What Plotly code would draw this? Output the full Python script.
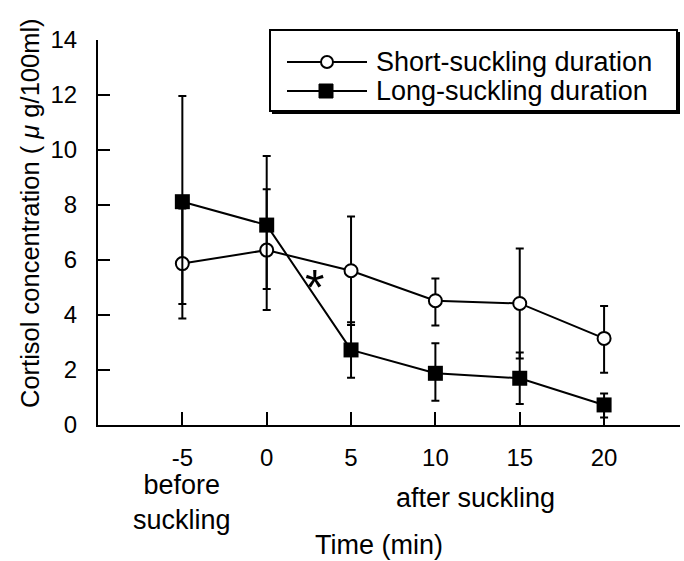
import plotly.graph_objects as go

time = [-5, 0, 5, 10, 15, 20]
tick_labels = ["-5", "0", "5", "10", "15", "20"]

short_mean = [5.87, 6.36, 5.61, 4.52, 4.42, 3.15]
short_upper = [7.87, 8.57, 7.58, 5.33, 6.42, 4.33]
short_lower = [3.87, 4.18, 3.64, 3.62, 2.42, 1.90]

long_mean = [8.12, 7.27, 2.73, 1.88, 1.70, 0.73]
long_upper = [11.96, 9.78, 3.74, 2.97, 2.64, 1.15]
long_lower = [4.40, 4.95, 1.72, 0.88, 0.76, 0.27]

star_x, star_y = 2.82, 5.31

FONT = "Liberation Sans, Arial, Helvetica, sans-serif"
TXT = 27

def errs(mean, up, lo):
    return ([u - m for u, m in zip(up, mean)], [m - l for m, l in zip(mean, lo)])

su, sl = errs(short_mean, short_upper, short_lower)
lu, ll = errs(long_mean, long_upper, long_lower)

fig = go.Figure()
fig.add_trace(go.Scatter(
    x=time, y=short_mean, mode="lines+markers", name="Short-suckling duration",
    line=dict(color="black", width=2),
    marker=dict(symbol="circle", size=13, color="white", line=dict(width=2, color="black")),
    error_y=dict(type="data", symmetric=False, array=su, arrayminus=sl,
                 color="black", thickness=2, width=4),
    showlegend=False,
))
fig.add_trace(go.Scatter(
    x=time, y=long_mean, mode="lines+markers", name="Long-suckling duration",
    line=dict(color="black", width=2),
    marker=dict(symbol="square", size=15, color="black"),
    error_y=dict(type="data", symmetric=False, array=lu, arrayminus=ll,
                 color="black", thickness=2, width=4),
    showlegend=False,
))

L, R, T, B = 98, 4, 40, 136
W, H = 684, 561
pw, ph = W - L - R, H - T - B

def px_x(p):
    return (p - L) / pw

def px_y(p):
    return (H - B - p) / ph

shapes = []
# legend box with shadow
shapes.append(dict(type="rect", xref="paper", yref="paper",
                   x0=px_x(272), x1=px_x(680), y0=px_y(114), y1=px_y(32),
                   fillcolor="black", line=dict(width=0), layer="above"))
shapes.append(dict(type="rect", xref="paper", yref="paper",
                   x0=px_x(270), x1=px_x(677), y0=px_y(111), y1=px_y(30),
                   fillcolor="white", line=dict(color="black", width=2), layer="above"))
rows = [62, 91]
for ry in rows:
    shapes.append(dict(type="line", xref="paper", yref="paper",
                       x0=px_x(287), x1=px_x(367), y0=px_y(ry), y1=px_y(ry),
                       line=dict(color="black", width=2), layer="above"))
shapes.append(dict(type="circle", xref="paper", yref="paper", xsizemode="pixel", ysizemode="pixel",
                   xanchor=px_x(327), yanchor=px_y(rows[0]), x0=-6, x1=6, y0=-6, y1=6,
                   fillcolor="white", line=dict(color="black", width=2), layer="above"))
shapes.append(dict(type="rect", xref="paper", yref="paper", xsizemode="pixel", ysizemode="pixel",
                   xanchor=px_x(326), yanchor=px_y(rows[1]), x0=-7, x1=7, y0=-7, y1=7,
                   fillcolor="black", line=dict(color="black", width=1), layer="above"))

def ann(text, x, y, xref="paper", size=TXT, **kw):
    d = dict(text=text, x=x, y=y, xref=xref, yref="paper", showarrow=False,
             font=dict(size=size, color="black", family=FONT))
    d.update(kw)
    return d

annotations = [
    ann("Short-suckling duration", px_x(374), px_y(rows[0]), xanchor="left", yanchor="middle"),
    ann("Long-suckling duration", px_x(374), px_y(rows[1]), xanchor="left", yanchor="middle"),
    dict(text="*", x=star_x, y=star_y, xref="x", yref="y", showarrow=False,
         font=dict(size=50, color="black", family=FONT), yshift=-9),
    ann("before<br>suckling", -5, px_y(502), xref="x", yanchor="middle"),
    ann("after suckling", 12.4, px_y(498), xref="x", yanchor="middle"),
    ann("Time (min)", px_x(379), px_y(545), yanchor="middle"),
    ann("Cortisol concentration ( <i>μ</i> g/100ml)", px_x(30), px_y(213), size=25.5,
        textangle=-90, xanchor="center", yanchor="middle"),
]

fig.update_layout(
    width=W, height=H,
    margin=dict(l=L, r=R, t=T, b=B, autoexpand=False),
    paper_bgcolor="white", plot_bgcolor="white",
    font=dict(family=FONT, size=24, color="black"),
    shapes=shapes, annotations=annotations,
    xaxis=dict(range=[-10, 24.5], tickmode="array", tickvals=time, ticktext=tick_labels,
               ticks="inside", ticklen=13, tickwidth=2, tickcolor="black", ticklabelstandoff=10,
               showline=True, linecolor="black", linewidth=2, showgrid=False, zeroline=False,
               automargin=False),
    yaxis=dict(range=[0, 14], tickvals=[0, 2, 4, 6, 8, 10, 12, 14],
               ticks="inside", ticklen=12, tickwidth=2, tickcolor="black", ticklabelstandoff=14,
               showline=True, linecolor="black", linewidth=2, showgrid=False, zeroline=False,
               automargin=False),
)

fig.write_html("out.html", config={"displayModeBar": False},
               post_script="document.body.style.margin='0px';document.body.style.overflow='hidden';")
